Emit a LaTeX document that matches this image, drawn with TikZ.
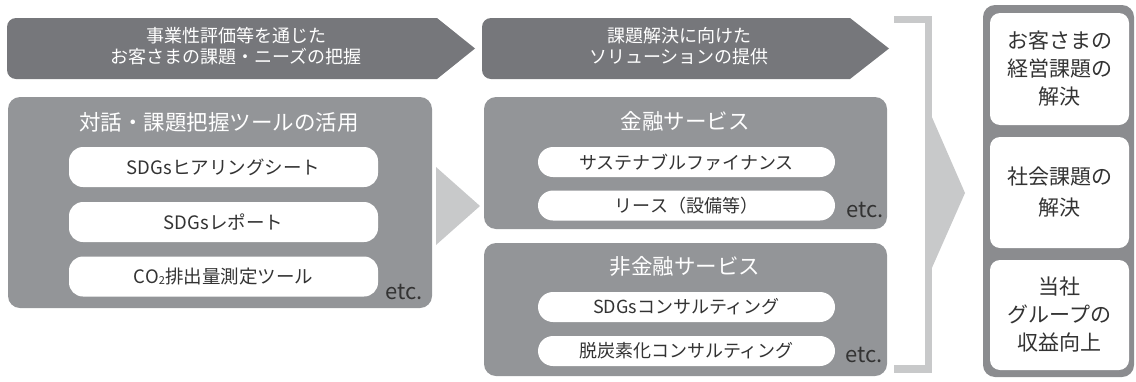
\documentclass[tikz,border=0pt]{standalone}
\usepackage{fontspec}
\setmainfont{Noto Sans CJK JP}
\definecolor{topgray}{HTML}{76777B}
\definecolor{boxgray}{HTML}{939598}
\definecolor{lightgray2}{HTML}{C8C9CA}
\definecolor{rightgray}{HTML}{8B8C8F}
\definecolor{darktext}{HTML}{333333}
\tikzset{
  bigbox/.style={rectangle, fill=boxgray, rounded corners=12pt, inner sep=0pt},
  pillL/.style={rectangle, fill=white, rounded corners=14pt, inner sep=0pt, minimum width=309pt, minimum height=40pt, text=darktext, font=\fontsize{18.5}{22}\selectfont},
  pillM/.style={rectangle, fill=white, rounded corners=15pt, inner sep=0pt, minimum width=297pt, minimum height=30pt, text=darktext, font=\fontsize{18}{22}\selectfont},
  boxtitle/.style={text=white, inner sep=0pt, font=\fontsize{21.5}{25}\selectfont},
  toptext/.style={text=white, inner sep=0pt, align=center, font=\fontsize{18}{21}\selectfont},
  etctext/.style={text=darktext, inner sep=0pt, font=\fontsize{22}{26}\selectfont},
  resbox/.style={rectangle, fill=white, rounded corners=10pt, inner sep=0pt, minimum width=139pt, align=center, text=darktext, font=\fontsize{21}{28}\selectfont},
}
\begin{document}
\begin{tikzpicture}[x=1pt,y=-1pt]
\useasboundingbox (0,0) rectangle (1136,381);
% top arrows
\begin{scope}
\clip[rounded corners=9pt] (7,18) rectangle (520,79);
\fill[topgray] (7,18) -- (437,18) -- (475,48.5) -- (437,79) -- (7,79) -- cycle;
\end{scope}
\begin{scope}
\clip[rounded corners=9pt] (482,18) rectangle (950,79);
\fill[topgray] (482,18) -- (850,18) -- (889,48.5) -- (850,79) -- (482,79) -- cycle;
\end{scope}
\node[toptext] (t1) at (236,46.5) {事業性評価等を通じた\\お客さまの課題・ニーズの把握};
\node[toptext] (t2) at (679,46.5) {課題解決に向けた\\ソリューションの提供};
% left box
\node[bigbox, minimum width=424pt, minimum height=211pt] (lbox) at (220,202.5) {};
\node[boxtitle] (ltitle) at (219,122) {対話・課題把握ツールの活用};
\node[pillL] (lp1) at (223.5,167) {SDGsヒアリングシート};
\node[pillL] (lp2) at (223.5,222) {SDGsレポート};
\node[pillL] (lp3) at (223.5,276.5) {CO\raisebox{-0.15ex}{\fontsize{11}{11}\selectfont 2}排出量測定ツール};
\node[etctext, anchor=base west] (le) at (385,299) {etc.};
% middle triangle
\fill[lightgray2] (436,167) -- (480,206) -- (436,245) -- cycle;
% financial box
\node[bigbox, minimum width=403pt, minimum height=132pt] (fbox) at (685.5,163) {};
\node[boxtitle] (ftitle) at (685,121) {金融サービス};
\node[pillM] (fp1) at (686.5,162) {サステナブルファイナンス};
\node[pillM] (fp2) at (686.5,205.5) {リース（設備等）};
\node[etctext, anchor=base west] (fe) at (846,217) {etc.};
% non-financial box
\node[bigbox, minimum width=403pt, minimum height=133pt] (nbox) at (685.5,309.5) {};
\node[boxtitle] (ntitle) at (685,266.5) {非金融サービス};
\node[pillM] (np1) at (686.5,307) {SDGsコンサルティング};
\node[pillM] (np2) at (686.5,351) {脱炭素化コンサルティング};
\node[etctext, anchor=base west] (ne) at (845,362) {etc.};
% bracket and arrow
\draw[lightgray2, line width=7.5pt, miter limit=10] (894,19.5) -- (928.5,19.5) -- (928.5,369) -- (894,369);
\fill[lightgray2] (931,115) -- (965,193) -- (931,270) -- cycle;
% right column
\node[rectangle, fill=rightgray, rounded corners=12pt, minimum width=151pt, minimum height=372pt, inner sep=0pt] (rbox) at (1058.5,191) {};
\node[resbox, minimum height=112pt] (r1) at (1059.5,69) {お客さまの\\経営課題の\\解決};
\node[resbox, minimum height=111pt, font=\fontsize{21}{31}\selectfont] (r2) at (1059.5,192.5) {社会課題の\\解決};
\node[resbox, minimum height=110pt] (r3) at (1059.5,315) {当社\\グループの\\収益向上};
\end{tikzpicture}
\end{document}
